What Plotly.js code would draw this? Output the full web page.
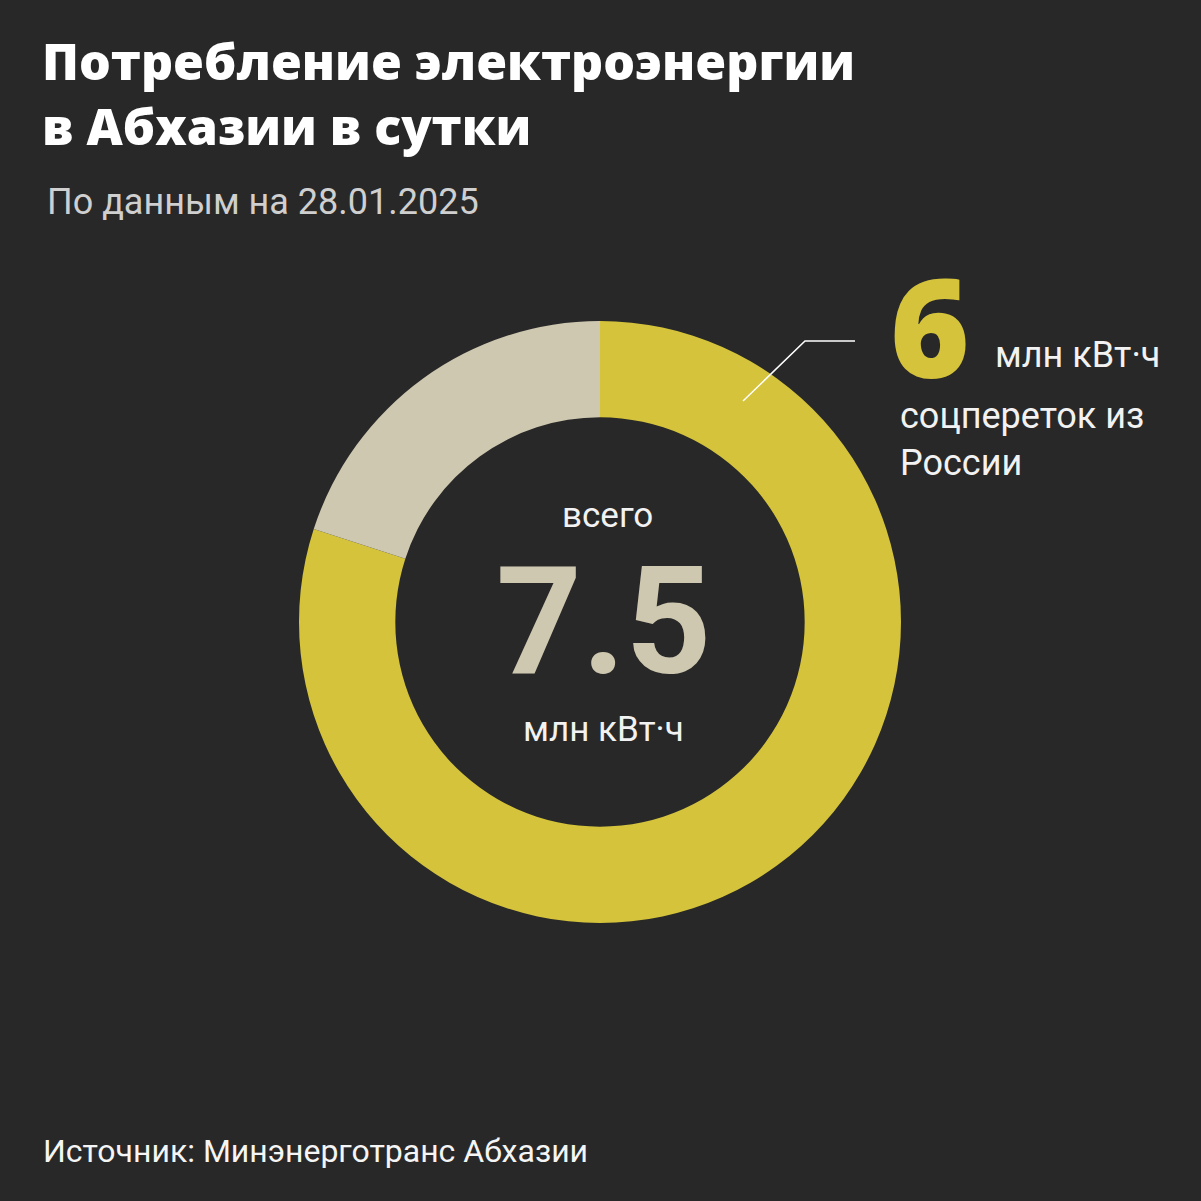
<!DOCTYPE html>
<html>
<head>
<meta charset="utf-8">
<script src="https://cdn.plot.ly/plotly-3.0.1.min.js"></script>
<style>
  html, body { margin: 0; padding: 0; background: #282828; }
  #chart { width: 1201px; height: 1201px; }
</style>
</head>
<body>
<div id="chart"></div>
<script>
// data
const labels = ['соцпереток из России', 'прочее'];
const values = [6, 1.5];
const colors = ['#d4c33b', '#cec8b0'];
const total = values.reduce((a, b) => a + b, 0);

const W = 1201, H = 1201;
const px = x => x / W;
const py = y => 1 - y / H;

const bg = '#282828';
const bodyFont = 'Roboto, "DejaVu Sans", sans-serif';
const headFont = '"Open Sans", "DejaVu Sans", sans-serif';

// donut geometry (pixels in the picture)
const cx = 600, cy = 622, R = 301;

const data = [{
    type: 'pie',
    labels: labels,
    values: values,
    marker: { colors: colors, line: { width: 0 } },
    hole: 0.68,
    sort: false,
    direction: 'clockwise',
    rotation: 0,
    textinfo: 'none',
    hoverinfo: 'none',
    showlegend: false,
    domain: {
        x: [px(cx - R), px(cx + R)],
        y: [py(cy + R), py(cy - R)]
    }
}];

const annotations = [
    {
        text: 'Потребление электроэнергии<br>в Абхазии в сутки',
        x: px(40), y: py(25), xanchor: 'left', yanchor: 'top', align: 'left',
        font: { family: headFont, size: 50, color: '#ffffff', weight: 800 }
    },
    {
        text: 'По данным на 28.01.2025',
        x: px(45), y: py(202), xanchor: 'left', yanchor: 'middle',
        font: { family: bodyFont, size: 36, color: '#cfcfcf' }
    },
    {
        text: 'всего',
        x: px(607), y: py(516), xanchor: 'center', yanchor: 'middle',
        font: { family: bodyFont, size: 35, color: '#f2f2f2' }
    },
    {
        text: String(total),
        x: px(604), y: py(622), xanchor: 'center', yanchor: 'middle',
        font: { family: bodyFont, size: 150, color: colors[1], weight: 'bold' }
    },
    {
        text: 'млн кВт·ч',
        x: px(603), y: py(729), xanchor: 'center', yanchor: 'middle',
        font: { family: bodyFont, size: 35, color: '#f2f2f2' }
    },
    {
        text: String(values[0]),
        x: px(888), y: py(325), xanchor: 'left', yanchor: 'middle',
        font: { family: headFont, size: 136, color: colors[0], weight: 800 }
    },
    {
        text: 'млн кВт·ч',
        x: px(993), y: py(355), xanchor: 'left', yanchor: 'middle',
        font: { family: bodyFont, size: 36, color: '#f2f2f2' }
    },
    {
        text: 'соцпереток из<br>России',
        x: px(898), y: py(393), xanchor: 'left', yanchor: 'top', align: 'left',
        font: { family: bodyFont, size: 36, color: '#f2f2f2' }
    },
    {
        text: 'Источник: Минэнерготранс Абхазии',
        x: px(41), y: py(1151), xanchor: 'left', yanchor: 'middle',
        font: { family: bodyFont, size: 32, color: '#f5f5f5' }
    }
].map(a => ({ ...a, xref: 'paper', yref: 'paper', showarrow: false }));

const layout = {
    width: W,
    height: H,
    margin: { l: 0, r: 0, t: 0, b: 0 },
    paper_bgcolor: bg,
    plot_bgcolor: bg,
    annotations: annotations,
    shapes: [{
        type: 'path',
        xref: 'paper', yref: 'paper',
        path: `M ${px(743)} ${py(401)} L ${px(805)} ${py(341)} L ${px(855)} ${py(341)}`,
        line: { color: '#ffffff', width: 1.5 }
    }]
};

Plotly.newPlot('chart', data, layout, { staticPlot: true });
</script>
</body>
</html>
